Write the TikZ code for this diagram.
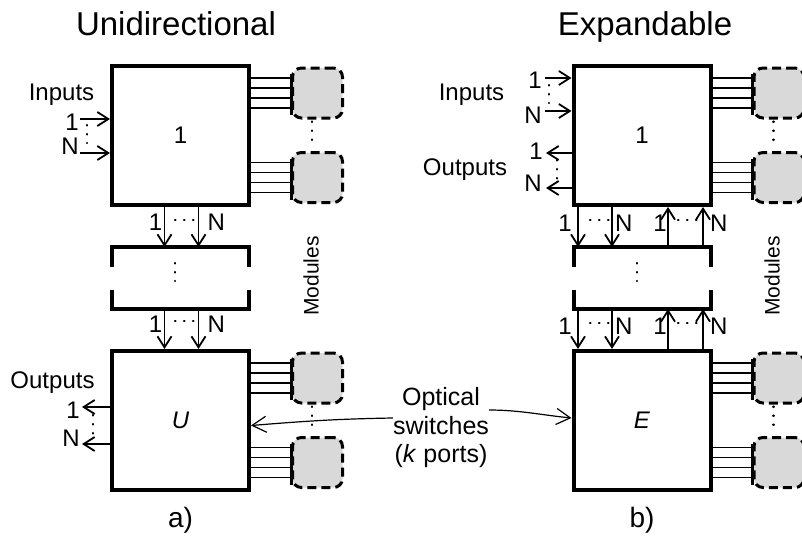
\documentclass[tikz,border=0pt]{standalone}
\usepackage{fontspec}
\setmainfont{Liberation Sans}
\usetikzlibrary{arrows.meta,positioning}
\definecolor{modgray}{RGB}{217,217,217}
\newcommand{\pxfont}[1]{\fontsize{#1}{#1}\selectfont}

\begin{document}
\begin{tikzpicture}[x=1pt, y=-1pt, >={Straight Barb[length=11pt,width=14pt]},
  switchbox/.style={draw,line width=4pt,minimum width=137pt,minimum height=139pt,inner sep=0pt,font=\pxfont{24}},
  midbox/.style={minimum width=137pt,minimum height=62pt,inner sep=0pt,outer sep=0pt},
  module/.style={draw,fill=modgray,line width=3pt,dash pattern=on 9pt off 5pt,rounded corners=9pt,minimum width=50pt,minimum height=50pt,inner sep=0pt},
  wire/.style={line width=1.8pt},
  port/.style={->,line width=1.8pt},
  callout/.style={-{Straight Barb[length=14pt,width=16pt]},line width=1.2pt},
  lbl/.style={font=\pxfont{24},inner sep=0pt},
  dots/.style={line width=2.2pt,line cap=round,dash pattern=on 0.5pt off 8.5pt},
  title/.style={font=\pxfont{33},inner sep=0pt,anchor=base}]
\useasboundingbox (0,0) rectangle (802,536);

% titles
\node[title] (tU) at (176,35) {Unidirectional};
\node[title] (tE) at (645,35) {Expandable};

% switch stacks
\node[switchbox] (uni1) at (180.5,135.5) {1};
\node[midbox,below=40pt of uni1] (unimid) {};
\node[switchbox,below=40pt of unimid] (uniU) {\textit{U}};
\node[font=\pxfont{28},inner sep=0pt,below=15pt of uniU] (capa) {a)};

\node[switchbox] (exp1) at (642,135.5) {1};
\node[midbox,below=40pt of exp1] (expmid) {};
\node[switchbox,below=40pt of expmid] (expE) {\textit{E}};
\node[font=\pxfont{28},inner sep=0pt,below=15pt of expE] (capb) {b)};

\foreach \bk in {unimid,expmid} {
  \draw[line width=4pt] ([yshift=-20pt]\bk.north west) -- (\bk.north west) -- (\bk.north east) -- ([yshift=-20pt]\bk.north east);
  \draw[line width=4pt] ([yshift=19pt]\bk.south west) -- (\bk.south west) -- (\bk.south east) -- ([yshift=19pt]\bk.south east);
}
\draw[dots] (175,263) -- (175,281);
\draw[dots] (637,263) -- (637,281);

% modules
\foreach \sw in {uni1,uniU,exp1,expE} {
  \node[module,right=40pt of \sw.east,yshift=42.5pt] (\sw-ma) {};
  \node[module,right=40pt of \sw.east,yshift=-42pt] (\sw-mb) {};
  \draw[dots] ([xshift=-5.5pt,yshift=-2pt]\sw-ma.south) -- ([xshift=-5.5pt,yshift=8pt]\sw-mb.north);
  \foreach \m in {\sw-ma,\sw-mb} {
    \foreach \d in {-15,-5,5,15}
      \draw[wire] ([yshift=\d pt]\m.west) -- ([yshift=\d pt]\m.west -| \sw.east);
    \draw[line width=3pt] ([yshift=19pt]\m.west) -- ([yshift=-22pt]\m.west);
  }
}
\node[font=\pxfont{21},rotate=90,inner sep=0pt] (modU) at (311,276) {Modules};
\node[font=\pxfont{21},rotate=90,inner sep=0pt] (modE) at (772,276) {Modules};

% unidirectional ports
\coordinate (ui1) at (80,119);
\coordinate (uiN) at (80,153);
\draw[port] (ui1) -- (ui1 -| uni1.west);
\draw[port] (uiN) -- (uiN -| uni1.west);
\node[lbl,left=1pt of ui1,yshift=-3pt] (ui1l) {1};
\node[lbl,left=1pt of uiN,yshift=6.5pt] (uiNl) {N};
\node[lbl,anchor=base] (uiT) at (61.5,100) {Inputs};
\draw[dots] (87,125) -- (87,143);

\coordinate (uo1) at (82,407);
\coordinate (uoN) at (82,444);
\draw[port] (uo1 -| uniU.west) -- (uo1);
\draw[port] (uoN -| uniU.west) -- (uoN);
\node[lbl,left=2pt of uo1,yshift=-3pt] (uo1l) {1};
\node[lbl,left=2pt of uoN,yshift=6pt] (uoNl) {N};
\node[lbl,anchor=base] (uoT) at (52.5,388) {Outputs};
\draw[dots] (93,415) -- (93,434);

\foreach \dx in {-16,18} {
  \draw[port] ([xshift=\dx pt]uni1.south) -- ([xshift=\dx pt]unimid.north);
  \draw[port] ([xshift=\dx pt]unimid.south) -- ([xshift=\dx pt]uniU.north);
}
\node[lbl,anchor=east] (ua1) at ([xshift=-18pt,yshift=-15pt]uni1.south) {1};
\node[lbl,anchor=west] (uaN) at ([xshift=27pt,yshift=-15pt]uni1.south) {N};
\node[lbl,anchor=east] (ub1) at ([xshift=-18pt,yshift=-15pt]unimid.south) {1};
\node[lbl,anchor=west] (ubN) at ([xshift=27pt,yshift=-15pt]unimid.south) {N};
\draw[dots] (175,220) -- (194,220);
\draw[dots] (175,321) -- (194,321);

% expandable ports
\coordinate (ei1) at (545,78);
\coordinate (eiN) at (545,111);
\draw[port] (ei1) -- (ei1 -| exp1.west);
\draw[port] (eiN) -- (eiN -| exp1.west);
\node[lbl,left=3pt of ei1,yshift=-2pt] (ei1l) {1};
\node[lbl,left=3pt of eiN,yshift=-4pt] (eiNl) {N};
\node[lbl,anchor=base] (eiT) at (471.5,100) {Inputs};
\draw[dots] (549,85) -- (549,103);

\coordinate (eo1) at (546,153);
\coordinate (eoN) at (546,188);
\draw[port] (eo1 -| exp1.west) -- (eo1);
\draw[port] (eoN -| exp1.west) -- (eoN);
\node[lbl,left=3pt of eo1,yshift=1.5pt] (eo1l) {1};
\node[lbl,left=4pt of eoN,yshift=4.5pt] (eoNl) {N};
\node[lbl,anchor=base] (eoT) at (465,175) {Outputs};
\draw[dots] (557,160) -- (557,183);

\foreach \dx in {-64,-30} {
  \draw[port] ([xshift=\dx pt]exp1.south) -- ([xshift=\dx pt]expmid.north);
  \draw[port] ([xshift=\dx pt]expmid.south) -- ([xshift=\dx pt]expE.north);
}
\foreach \dx in {26,61} {
  \draw[port] ([xshift=\dx pt]expmid.north) -- ([xshift=\dx pt]exp1.south);
  \draw[port] ([xshift=\dx pt]expE.north) -- ([xshift=\dx pt]expmid.south);
}
\foreach \bk/\dy/\n in {exp1/-16/a,expmid/-17/b} {
  \node[lbl,anchor=east] (e\n1) at ([xshift=-70pt,yshift=\dy pt]\bk.south) {1};
  \node[lbl,anchor=west] (e\n N) at ([xshift=-27pt,yshift=\dy pt]\bk.south) {N};
  \node[lbl,anchor=east] (e\n2) at ([xshift=25pt,yshift=\dy pt]\bk.south) {1};
  \node[lbl,anchor=west] (e\n M) at ([xshift=68pt,yshift=\dy pt]\bk.south) {N};
}
\draw[dots] (590,220) -- (609,220);
\draw[dots] (678,220) -- (697,220);
\draw[dots] (590,323) -- (609,323);
\draw[dots] (678,323) -- (697,323);

% optical switches
\node[font=\fontsize{25}{28.5}\selectfont,align=center,inner sep=0pt] (optsw) at (441,428) {Optical\\switches\\(\textit{k} ports)};
\draw[callout] ([yshift=10pt]optsw.west) .. controls +(-60,1) and +(50,-4) .. ([yshift=-5pt]uniU.east);
\draw[callout] ([yshift=18pt]optsw.east) .. controls +(30,0) and +(-30,-3) .. ([yshift=2.5pt]expE.west);
\end{tikzpicture}
\end{document}
